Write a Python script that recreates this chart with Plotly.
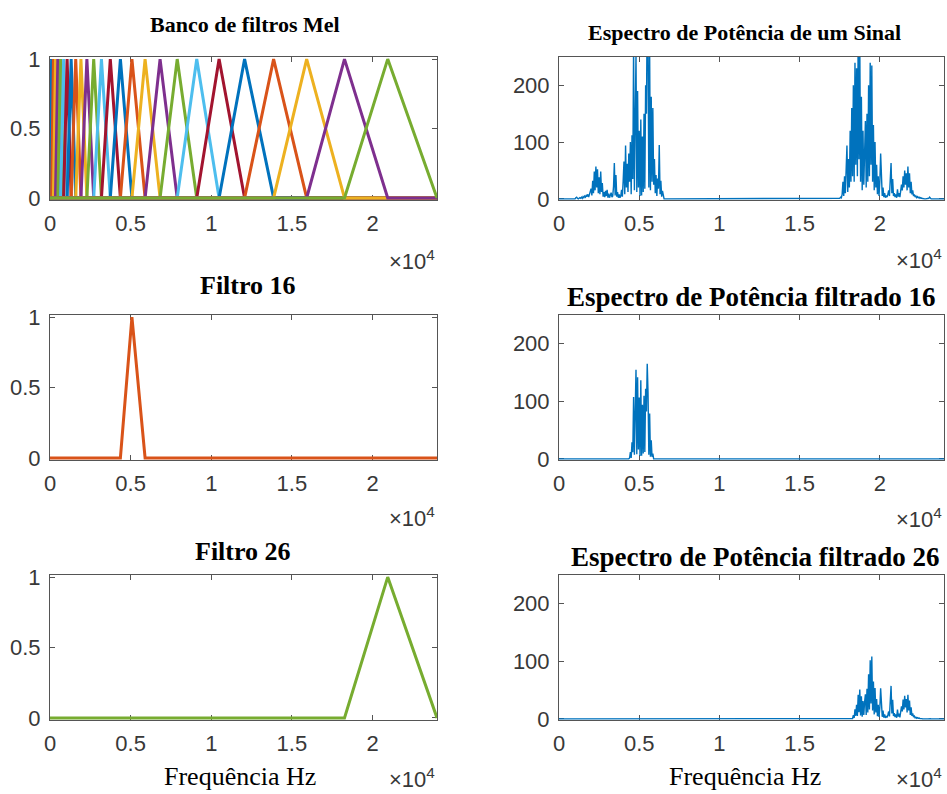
import numpy as np
import plotly.graph_objects as go

# ---------------- data ----------------
# Mel filter-bank edge frequencies (Hz): 26 triangular filters -> 28 edges
mel_edges_hz = [0, 99, 212, 340, 487, 654, 845, 1062, 1311, 1595, 1918, 2288,
                2710, 3190, 3739, 4365, 5081, 5897, 6826, 7889, 9101, 10486,
                12068, 13867, 15918, 18263, 20944, 24000]
freq_max_hz = 24000

# Power spectrum, low cluster: samples every 50 Hz from 1000 Hz to 6600 Hz
spec_low_start_hz = 1000
spec_low_step_hz = 50
spec_low_power = [
    0, 2, 3, 1, 0, 1, 2, 1, 3, 1,              # 1000-1450
    4, 2, 5, 3, 6, 4, 8, 3, 7, 12,             # 1500-1950
    18, 6, 32, 10, 48, 15, 57, 20, 52, 10,     # 2000-2450
    38, 8, 48, 12, 28, 4, 12, 3, 14, 5,        # 2500-2950
    16, 2, 9, 2, 6, 11, 3, 5, 22, 63,          # 3000-3450
    6, 42, 4, 12, 2, 8, 2, 5, 16, 4,           # 3500-3950
    32, 66, 8, 94, 20, 62, 12, 80, 30, 100,    # 4000-4450
    8, 112, 35, 270, 15, 210, 255, 12, 190, 20,   # 4500-4950
    120, 5, 140, 6, 110, 12, 150, 18, 200, 150,   # 5000-5450
    340, 270, 20, 260, 15, 180, 30, 160, 25, 70,  # 5500-5950
    10, 42, 5, 36, 18, 95, 8, 32, 4, 14,       # 6000-6450
    2, 0, 0,                                   # 6500-6600
]

# Power spectrum, mirrored high cluster: every 50 Hz from 17400 Hz to 23200 Hz
spec_high_start_hz = 17400
spec_high_step_hz = 50
spec_high_power = [
    0, 0, 1, 3, 2, 8, 30, 5, 40, 10,           # 17400-17850
    60, 94, 12, 70, 20, 120, 30, 160, 40, 200, # 17900-18350
    30, 240, 60, 230, 40, 290, 70, 280, 30, 180,  # 18400-18850
    15, 120, 25, 100, 137, 20, 150, 30, 200, 40,  # 18900-19350
    240, 60, 235, 30, 130, 15, 100, 20, 60, 8,    # 19400-19850
    40, 5, 30, 80, 10, 5, 20, 3, 10, 2,        # 19900-20350
    6, 3, 8, 15, 5, 40, 63, 10, 35, 5,         # 20400-20850
    10, 3, 8, 2, 17, 4, 10, 3, 12, 25,         # 20900-21350
    15, 40, 20, 50, 25, 45, 15, 57, 20, 45,    # 21400-21850
    10, 30, 8, 15, 5, 8, 3, 5, 2, 4,           # 21900-22350
    2, 3, 1, 2, 1, 0.5, 0, 0, 0, 0,            # 22400-22850
    0, 0, 0, 1, 3, 1, 0,                       # 22900-23200
]

filter_a = 16
filter_b = 26

x_tick_vals = [0, 5000, 10000, 15000, 20000]
x_tick_text = ["0", "0.5", "1", "1.5", "2"]
filt_tick_vals = [0, 0.5, 1]
filt_tick_text = ["0", "0.5", "1"]
spec_tick_vals = [0, 100, 200]
spec_tick_text = ["0", "100", "200"]

titles = ["Banco de filtros Mel", "Espectro de Potência de um Sinal",
          "Filtro 16", "Espectro de Potência filtrado 16",
          "Filtro 26", "Espectro de Potência filtrado 26"]
x_label = "Frequência Hz"

matlab_colors = ["#0072BD", "#D95319", "#EDB120", "#7E2F8E",
                 "#77AC30", "#4DBEEE", "#A2142F"]

# ---------------- derived arrays ----------------
low_f = [spec_low_start_hz + spec_low_step_hz * i for i in range(len(spec_low_power))]
high_f = [spec_high_start_hz + spec_high_step_hz * i for i in range(len(spec_high_power))]
spec_f = np.array([0] + low_f + high_f + [freq_max_hz], dtype=float)
spec_p = np.array([0] + spec_low_power + spec_high_power + [0], dtype=float)


def filt_xy(k):  # k is 1-based filter number
    l, c, r = mel_edges_hz[k - 1], mel_edges_hz[k], mel_edges_hz[k + 1]
    return [0, l, c, r, freq_max_hz], [0, 0, 1, 0, 0]


def filt_weight(k, f):
    l, c, r = mel_edges_hz[k - 1], mel_edges_hz[k], mel_edges_hz[k + 1]
    return np.interp(f, [l, c, r], [0, 1, 0], left=0, right=0)


# ---------------- layout geometry (pixels) ----------------
W, H = 947, 794
cols = [(50, 437), (559, 944)]
rows = [(57, 200), (315, 460), (575, 720)]


def fx(p):
    return p / W


def fy(p):
    return 1 - p / H


fig = go.Figure()


def ax_names(r, c):
    n = 2 * r + c + 1
    return ("x" if n == 1 else f"x{n}"), ("y" if n == 1 else f"y{n}")


# Filter bank
xa, ya = ax_names(0, 0)
n_filters = len(mel_edges_hz) - 2
for k in range(1, n_filters + 1):
    xs, ys = filt_xy(k)
    fig.add_trace(go.Scatter(x=xs, y=ys, mode="lines", xaxis=xa, yaxis=ya,
                             line=dict(color=matlab_colors[(k - 1) % 7], width=3),
                             showlegend=False, hoverinfo="skip"))

# full spectrum
xa, ya = ax_names(0, 1)
fig.add_trace(go.Scatter(x=spec_f, y=spec_p, mode="lines", xaxis=xa, yaxis=ya,
                         line=dict(color="#0072BD", width=1.4), showlegend=False))

# filter 16 / 26 and filtered spectra
for r, k in [(1, filter_a), (2, filter_b)]:
    xa, ya = ax_names(r, 0)
    xs, ys = filt_xy(k)
    fig.add_trace(go.Scatter(x=xs, y=ys, mode="lines", xaxis=xa, yaxis=ya,
                             line=dict(color=matlab_colors[(k - 1) % 7], width=3),
                             showlegend=False))
    xa, ya = ax_names(r, 1)
    fig.add_trace(go.Scatter(x=spec_f, y=spec_p * filt_weight(k, spec_f), mode="lines",
                             xaxis=xa, yaxis=ya,
                             line=dict(color="#0072BD", width=1.4), showlegend=False))

axis_col = "#555555"
tick_font = dict(family="Liberation Sans, Arial, sans-serif", size=22, color="#383838")
layout = dict(width=W, height=H, autosize=False,
              margin=dict(l=0, r=0, t=0, b=0, pad=0, autoexpand=False),
              paper_bgcolor="white", plot_bgcolor="white", showlegend=False)

for r in range(3):
    for c in range(2):
        n = 2 * r + c + 1
        xkey = "xaxis" if n == 1 else f"xaxis{n}"
        ykey = "yaxis" if n == 1 else f"yaxis{n}"
        xa, ya = ax_names(r, c)
        layout[xkey] = dict(domain=[fx(cols[c][0]), fx(cols[c][1])], anchor=ya,
                            range=[0, freq_max_hz], tickvals=x_tick_vals,
                            ticktext=x_tick_text, ticks="inside", ticklen=5,
                            tickcolor=axis_col, showline=True, linecolor=axis_col,
                            linewidth=1, mirror="ticks", showgrid=False,
                            zeroline=False, tickfont=tick_font, automargin=False,
                            ticklabelstandoff=4, layer="below traces")
        if c == 0:
            yr, tv, tt = [-0.015, 1.015], filt_tick_vals, filt_tick_text
        else:
            yr, tv, tt = [-2, 250], spec_tick_vals, spec_tick_text
        layout[ykey] = dict(domain=[fy(rows[r][1]), fy(rows[r][0])], anchor=xa,
                            range=yr, tickvals=tv, ticktext=tt, ticks="inside",
                            ticklen=5, tickcolor=axis_col, showline=True,
                            linecolor=axis_col, linewidth=1, mirror="ticks",
                            showgrid=False, zeroline=False, tickfont=tick_font,
                            automargin=False,
                            ticklabelstandoff=4, layer="below traces")

fig.update_layout(**layout)

ann = []
serif = "Liberation Serif, Times New Roman, serif"
title_pos = [(245, 25, 22), (744, 33, 22), (248, 286, 26),
             (751, 297, 27), (243, 551, 26), (755, 557, 27)]
for t, (x, y, s) in zip(titles, title_pos):
    ann.append(dict(text=f"<b>{t}</b>", x=fx(x), y=fy(y), xref="paper", yref="paper",
                    xanchor="center", yanchor="middle", showarrow=False,
                    font=dict(family=serif, size=s, color="black")))
exp_pos = [(437, 260), (944, 259), (437, 517), (944, 518), (437, 778), (944, 778)]
for x, y in exp_pos:
    ann.append(dict(text="×10<sup>4</sup>", x=fx(x), y=fy(y), xref="paper", yref="paper",
                    xanchor="right", yanchor="middle", showarrow=False,
                    font=dict(family="Liberation Sans, Arial, sans-serif", size=22,
                              color="#383838")))
for x in (240, 745):
    ann.append(dict(text=x_label, x=fx(x), y=fy(776), xref="paper", yref="paper",
                    xanchor="center", yanchor="middle", showarrow=False,
                    font=dict(family=serif, size=26, color="black")))
fig.update_layout(annotations=ann)

fig.write_html("out.html",
               config={"displayModeBar": False, "staticPlot": True},
               post_script="document.body.style.margin='0';"
                           "document.documentElement.style.overflow='hidden';"
                           "document.body.style.overflow='hidden';")
